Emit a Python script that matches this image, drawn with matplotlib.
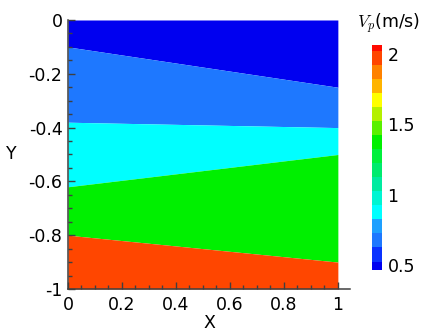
#!/usr/local/bin/python3
# -*- coding:utf-8 -*-
"""
    layered velocity model, five dipping layers, Vp colour coded
"""

import numpy as np
import matplotlib
matplotlib.use("Agg")
import matplotlib.pyplot as plt
import matplotlib.colors as mcolors
import matplotlib.cm as mcm
import matplotlib.transforms as mtrans
from matplotlib.ticker import MultipleLocator


# interface depths at x=0 and x=1 (top to bottom)
X_ENDS = [0.0, 1.0]
TOP = [0.0, 0.0]
IFACE_1 = [-0.10, -0.25]
IFACE_2 = [-0.38, -0.40]
IFACE_3 = [-0.62, -0.50]
IFACE_4 = [-0.80, -0.90]
BOTTOM = [-1.0, -1.0]

# layer velocities (m/s), top to bottom
LAYER_VP = [0.45, 0.65, 0.85, 1.35, 1.95]

# colour bar: contour levels and band colours (below 0.5 ... above 2.0)
LEVELS = [0.44, 0.5, 0.6, 0.7, 0.8, 0.9, 1.0, 1.1, 1.2, 1.3, 1.4,
          1.5, 1.6, 1.7, 1.8, 1.9, 2.0, 2.04]
BAND_COLORS = ["#0000f0", "#0a32ff", "#1e78ff", "#1ea0ff", "#00ffff",
               "#00f5d2", "#00eba0", "#00eb6e", "#00f03c", "#00f000",
               "#5af000", "#b4f000", "#ffff00", "#ffb400", "#ff8200",
               "#ff4600", "#ff0a00"]
CBAR_TICKS = [0.5, 1, 1.5, 2]

FONT = 12.5
AXIS_COLOR = "#404040"


def main():
    fig = plt.figure(figsize=(4.32, 3.31), dpi=100)
    plt.rcParams["mathtext.fontset"] = "cm"

    ax = fig.add_axes([0.1574, 0.1269, 0.6528, 0.8127])

    cmap = mcolors.ListedColormap(BAND_COLORS)
    norm = mcolors.BoundaryNorm(LEVELS, cmap.N)

    x = np.array(X_ENDS)
    bounds = [TOP, IFACE_1, IFACE_2, IFACE_3, IFACE_4, BOTTOM]
    for i, vp in enumerate(LAYER_VP):
        ax.fill_between(x, bounds[i], bounds[i + 1],
                        color=cmap(norm(vp)), linewidth=0)

    ax.set_xlim(0, 1.045)
    ax.set_ylim(-1, 0)
    ax.set_xticks([0, 0.2, 0.4, 0.6, 0.8, 1])
    ax.set_xticklabels(["0", "0.2", "0.4", "0.6", "0.8", "1"])
    ax.set_yticks([-1, -0.8, -0.6, -0.4, -0.2, 0])
    ax.set_yticklabels(["-1", "-0.8", "-0.6", "-0.4", "-0.2", "0"])
    ax.yaxis.set_minor_locator(MultipleLocator(0.05))
    # minor ticks only up to x=1
    ax.set_xticks([t for t in np.arange(0, 1.001, 0.05)
                   if round(t / 0.2, 3) % 1 != 0], minor=True)
    ax.tick_params(which="both", direction="in", color=AXIS_COLOR,
                   labelsize=FONT, width=1.0)
    ax.tick_params(which="major", length=5)
    ax.tick_params(which="minor", length=3)
    ax.tick_params(axis="x", pad=5)
    ax.tick_params(axis="y", pad=4)

    for side in ["top", "right"]:
        ax.spines[side].set_visible(False)
    for side in ["left", "bottom"]:
        ax.spines[side].set_color(AXIS_COLOR)
        ax.spines[side].set_linewidth(1.1)

    ax.set_xlabel("X", fontsize=FONT, labelpad=0)
    ax.set_ylabel("Y", fontsize=FONT, rotation=0, labelpad=12, va="center")

    # colour bar
    cax = fig.add_axes([0.861, 0.1843, 0.023, 0.680])
    sm = mcm.ScalarMappable(norm=norm, cmap=cmap)
    cb = fig.colorbar(sm, cax=cax, boundaries=LEVELS, spacing="proportional",
                      ticks=CBAR_TICKS)
    cb.ax.set_yticklabels(["0.5", "1", "1.5", "2"])
    cb.outline.set_visible(False)
    cb.ax.minorticks_off()
    cb.ax.tick_params(length=0, labelsize=FONT, pad=4)
    # tecplot puts the labels a little below the level
    shift = mtrans.ScaledTranslation(0, -3.5 / 100, fig.dpi_scale_trans)
    for lab in cb.ax.get_yticklabels():
        lab.set_transform(lab.get_transform() + shift)

    fig.text(0.900, 0.915, r"$V_p$(m/s)", fontsize=FONT,
             ha="center", va="baseline")

    fig.savefig("out.png", dpi=100)


if (__name__ == "__main__"):
    main()
